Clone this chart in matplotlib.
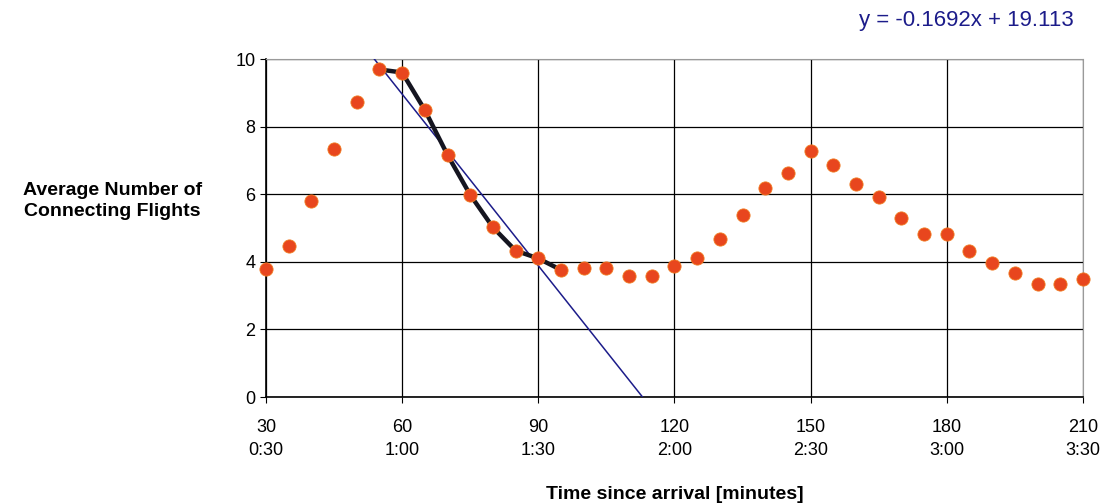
import numpy as np
import matplotlib.pyplot as plt

plt.rcParams['font.family'] = ['Liberation Sans', 'DejaVu Sans']

# minutes since arrival
minutes = [30, 35, 40, 45, 50, 55, 60, 65, 70, 75, 80, 85, 90, 95, 100, 105,
           110, 115, 120, 125, 130, 135, 140, 145, 150, 155, 160, 165, 170,
           175, 180, 185, 190, 195, 200, 205, 210]
avg_flights = [3.8, 4.48, 5.81, 7.34, 8.72, 9.69, 9.6, 8.49, 7.16, 5.98, 5.02,
               4.33, 4.1, 3.76, 3.81, 3.81, 3.58, 3.58, 3.88, 4.1, 4.68, 5.38,
               6.19, 6.64, 7.29, 6.86, 6.31, 5.92, 5.29, 4.82, 4.82, 4.31, 3.97,
               3.68, 3.33, 3.33, 3.5]

# highlighted segment (fitted section)
seg_start, seg_end = 55, 95

# linear trendline
slope = -0.1692
intercept = 19.113

tick_pos = [30, 60, 90, 120, 150, 180, 210]
tick_labels = ["30\n0:30", "60\n1:00", "90\n1:30", "120\n2:00",
               "150\n2:30", "180\n3:00", "210\n3:30"]

fig = plt.figure(figsize=(11.01, 5.03), dpi=100)
ax = fig.add_axes([0.2416, 0.2107, 0.742, 0.672])

x = np.array(minutes)
y = np.array(avg_flights)

ax.set_xlim(30, 210)
ax.set_ylim(0, 10)

# trendline
xt = np.array([0, 240])
ax.plot(xt, slope * xt + intercept, color='#1c1c8a', lw=1.1, zorder=3)

# black connecting segment
mask = (x >= seg_start) & (x <= seg_end)
ax.plot(x[mask], y[mask], color='#151520', lw=3.2, zorder=4,
        solid_capstyle='round', solid_joinstyle='round')

ax.plot(x, y, 'o', color='#e8461e', ms=9.5, mec='#f07a20', mew=0.6,
        zorder=5, clip_on=False)

ax.set_xticks(tick_pos)
ax.set_xticklabels(tick_labels, fontsize=13, linespacing=1.45)
ax.set_yticks(range(0, 11, 2))
ax.tick_params(axis='y', labelsize=13, length=4, color='black')
ax.tick_params(axis='x', length=4, color='black', pad=12)

ax.grid(True, color='black', lw=0.9)
ax.set_axisbelow(True)
for side in ['top', 'right']:
    ax.spines[side].set_color('#9a9a9a')
    ax.spines[side].set_linestyle((0, (1, 1)))
for side in ['left', 'bottom']:
    ax.spines[side].set_color('black')
    ax.spines[side].set_linewidth(1.2)

fig.text(0.102, 0.6, "Average Number of\nConnecting Flights", ha='center',
         va='center', fontsize=14, fontweight='bold', linespacing=1.35)
fig.text(0.613, 0.0, "Time since arrival [minutes]", ha='center',
         va='bottom', fontsize=14, fontweight='bold')
fig.text(0.975, 0.96, "y = -0.1692x + 19.113", ha='right', va='center',
         fontsize=16, color='#1c1c8a')

fig.savefig('out.png', dpi=100)
